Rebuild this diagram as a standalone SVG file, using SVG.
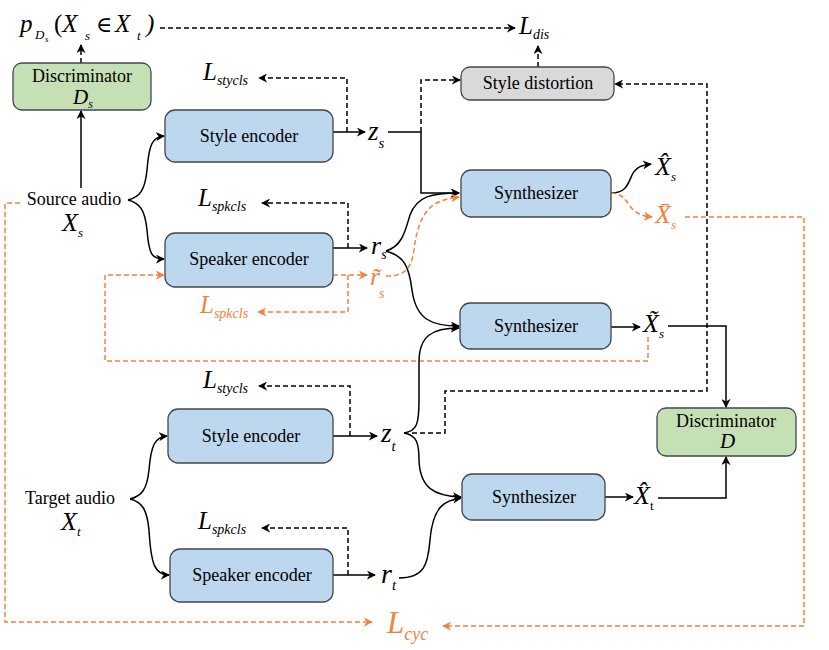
<svg xmlns="http://www.w3.org/2000/svg" width="829" height="650" viewBox="0 0 829 650" font-family="'Liberation Serif', 'DejaVu Serif', serif">
<defs>
<marker id="ab" viewBox="0 0 10 10" refX="9" refY="5" markerWidth="9" markerHeight="9" markerUnits="userSpaceOnUse" orient="auto"><path d="M0,0 L10,5 L0,10 L3,5 z" fill="#000"/></marker>
<marker id="ao" viewBox="0 0 10 10" refX="9" refY="5" markerWidth="9" markerHeight="9" markerUnits="userSpaceOnUse" orient="auto"><path d="M0,0 L10,5 L0,10 L3,5 z" fill="#f4813c"/></marker>
<style>
.box{stroke:#41464f;stroke-width:1.3}
.blue{fill:#bdd7ee}
.green{fill:#c5e0b4}
.gray{fill:#d9d9d9}
.t{font-size:18px;fill:#000;text-anchor:middle}
.m{font-style:italic;fill:#000}
.o{fill:#f4813c}
.s{fill:none;stroke:#000;stroke-width:1.5}
.d{fill:none;stroke:#000;stroke-width:1.5;stroke-dasharray:5 3}
.od{fill:none;stroke:#f4813c;stroke-width:1.5;stroke-dasharray:5 3}
</style>
</defs>

<g id="connectors">
<path class="s" d="M81,188 L81,111" marker-end="url(#ab)"/>
<path class="d" d="M81,63 L81,45" marker-end="url(#ab)"/>
<path class="d" d="M160,28 L515,28" marker-end="url(#ab)"/>
<path class="d" d="M538,67 L538,46" marker-end="url(#ab)"/>
<path class="s" d="M128,200 C140,197 145,190 147,170 C149,145 152,137 164,136" marker-end="url(#ab)"/>
<path class="s" d="M128,200 C140,203 145,210 147,230 C149,255 152,259 164,259" marker-end="url(#ab)"/>
<path class="s" d="M333,132 L365,132" marker-end="url(#ab)"/>
<path class="d" d="M347,132 L347,78 L259,78" marker-end="url(#ab)"/>
<path class="s" d="M388,132 L421,132 L421,193 L459,193" marker-end="url(#ab)"/>
<path class="d" d="M421,132 L421,80 L460,80" marker-end="url(#ab)"/>
<path class="s" d="M333,248 L367,248" marker-end="url(#ab)"/>
<path class="d" d="M348,248 L348,203 L262,203" marker-end="url(#ab)"/>
<path class="od" d="M333,275 L367,275" marker-end="url(#ao)"/>
<path class="od" d="M348,275 L348,312 L258,312" marker-end="url(#ao)"/>
<path class="od" d="M648,337 L648,361 L105,361 L105,275 L164,275" marker-end="url(#ao)"/>
<path class="s" d="M386,251 C402,246 405,232 410,215 C417,196 432,193 459,193" marker-end="url(#ab)"/>
<path class="s" d="M386,251 C404,256 409,266 412,290 C416,320 432,326 459,326" marker-end="url(#ab)"/>
<path class="od" d="M386,276 C404,276 411,270 414,250 C419,210 432,200 459,197" marker-end="url(#ao)"/>
<path class="s" d="M611,193 C626,193 628,184 632,175 C636,167 642,165 651,164" marker-end="url(#ab)"/>
<path class="od" d="M611,193 C621,193 625,199 630,206 C636,214 642,216 652,217" marker-end="url(#ao)"/>
<path class="od" d="M685,217 L804,217 L804,626 L443,626" marker-end="url(#ao)"/>
<path class="od" d="M20,203 L5,203 L5,622 L372,622" marker-end="url(#ao)"/>
<path class="s" d="M611,327 L640,327" marker-end="url(#ab)"/>
<path class="s" d="M668,326 L726,326 L726,407" marker-end="url(#ab)"/>
<path class="d" d="M412,433 L445,433 L445,391 L707,391 L707,84 L615,84" marker-end="url(#ab)"/>
<path class="s" d="M130,499 C142,496 147,489 149,470 C151,445 155,437 167,436" marker-end="url(#ab)"/>
<path class="s" d="M130,499 C142,502 147,509 149,530 C151,565 155,575 169,575" marker-end="url(#ab)"/>
<path class="s" d="M333,436 L377,436" marker-end="url(#ab)"/>
<path class="d" d="M350,436 L350,386 L259,386" marker-end="url(#ab)"/>
<path class="s" d="M333,575 L375,575" marker-end="url(#ab)"/>
<path class="d" d="M348,575 L348,528 L262,528" marker-end="url(#ab)"/>
<path class="s" d="M404,433 C417,431 419,424 419,400 L419,362 C419,336 432,328 459,328" marker-end="url(#ab)"/>
<path class="s" d="M404,433 C417,435 419,444 419,460 C420,488 434,496 461,497" marker-end="url(#ab)"/>
<path class="s" d="M399,578 C424,578 428,565 430,540 C433,505 446,500 461,498" marker-end="url(#ab)"/>
<path class="s" d="M605,497 L633,497" marker-end="url(#ab)"/>
<path class="s" d="M658,498 L726,498 L726,457" marker-end="url(#ab)"/>
</g>

<g id="discriminator-ds">
<rect class="box green" x="13" y="63" width="138" height="47" rx="9"/>
<text class="t" x="82" y="82">Discriminator</text>
<text class="m" x="73" y="104" font-size="21">D<tspan font-size="12" dy="4">s</tspan></text>
</g>
<g id="p-ds">
<text class="m" x="20" y="32" font-size="25">p</text>
<text class="m" x="35" y="39" font-size="13">D</text>
<text class="m" x="45" y="42" font-size="9">s</text>
<text class="m" x="54" y="32" font-size="25"><tspan font-style="normal">(</tspan>X</text>
<text class="m" x="85" y="40" font-size="13">s</text>
<text class="m" x="96" y="32" font-size="22" font-style="normal">∈</text>
<text class="m" x="115" y="32" font-size="25">X</text>
<text class="m" x="137" y="40" font-size="13">t</text>
<text class="m" x="146" y="32" font-size="25" font-style="normal">)</text>
</g>
<g id="l-dis"><text class="m" x="519" y="34" font-size="25">L<tspan font-size="14" dy="5">dis</tspan></text></g>
<g id="style-distortion">
<rect class="box gray" x="461" y="67" width="153" height="33" rx="9"/>
<text class="t" x="538" y="89">Style distortion</text>
</g>
<g id="l-stycls-1"><text class="m" x="203" y="80" font-size="25">L<tspan font-size="14" dy="5">stycls</tspan></text></g>
<g id="style-encoder-1">
<rect class="box blue" x="165" y="110" width="168" height="52" rx="10"/>
<text class="t" x="249" y="142">Style encoder</text>
</g>
<g id="z-s"><text class="m" x="368" y="140" font-size="27">z<tspan font-size="15" dy="8">s</tspan></text></g>
<g id="source-audio">
<text class="t" x="74" y="205">Source audio</text>
<text class="m" x="62" y="231" font-size="26">X<tspan font-size="13" dy="6">s</tspan></text>
</g>
<g id="l-spkcls-1"><text class="m" x="198" y="206" font-size="25">L<tspan font-size="14" dy="5">spkcls</tspan></text></g>
<g id="speaker-encoder-1">
<rect class="box blue" x="165" y="233" width="168" height="54" rx="10"/>
<text class="t" x="249" y="265">Speaker encoder</text>
</g>
<g id="r-s"><text class="m" x="371" y="254" font-size="26">r<tspan font-size="14" dy="5">s</tspan></text></g>
<g id="r-tilde-s"><text class="m o" x="370" y="285" font-size="26">r̃</text><text class="m o" x="379" y="298" font-size="14">s</text></g>
<g id="l-spkcls-o"><text class="m o" x="200" y="313" font-size="25">L<tspan font-size="14" dy="5">spkcls</tspan></text></g>
<g id="synthesizer-1">
<rect class="box blue" x="461" y="170" width="150" height="47" rx="10"/>
<text class="t" x="536" y="199">Synthesizer</text>
</g>
<g id="x-hat-s"><text class="m" x="655" y="175" font-size="26">X̂<tspan font-size="13" dy="6">s</tspan></text></g>
<g id="x-bar-s"><text class="m o" x="655" y="223" font-size="26">X̄<tspan font-size="13" dy="6">s</tspan></text></g>
<g id="synthesizer-2">
<rect class="box blue" x="460" y="303" width="151" height="46" rx="10"/>
<text class="t" x="536" y="332">Synthesizer</text>
</g>
<g id="x-tilde-s"><text class="m" x="643" y="332" font-size="26">X̃<tspan font-size="13" dy="6">s</tspan></text></g>
<g id="l-stycls-2"><text class="m" x="203" y="388" font-size="25">L<tspan font-size="14" dy="5">stycls</tspan></text></g>
<g id="discriminator-d">
<rect class="box green" x="657" y="408" width="139" height="48" rx="9"/>
<text class="t" x="726" y="427">Discriminator</text>
<text class="m" x="720" y="448" font-size="21">D</text>
</g>
<g id="style-encoder-2">
<rect class="box blue" x="168" y="409" width="165" height="54" rx="10"/>
<text class="t" x="251" y="442">Style encoder</text>
</g>
<g id="z-t"><text class="m" x="381" y="442" font-size="27">z<tspan font-size="15" dy="9">t</tspan></text></g>
<g id="target-audio">
<text class="t" x="70" y="504">Target audio</text>
<text class="m" x="61" y="530" font-size="26">X<tspan font-size="13" dy="6">t</tspan></text>
</g>
<g id="synthesizer-3">
<rect class="box blue" x="462" y="474" width="143" height="46" rx="10"/>
<text class="t" x="534" y="503">Synthesizer</text>
</g>
<g id="x-hat-t"><text class="m" x="634" y="504" font-size="26">X̂<tspan font-size="13" dy="6" font-style="normal">t</tspan></text></g>
<g id="l-spkcls-2"><text class="m" x="198" y="529" font-size="25">L<tspan font-size="14" dy="5">spkcls</tspan></text></g>
<g id="speaker-encoder-2">
<rect class="box blue" x="170" y="549" width="163" height="53" rx="10"/>
<text class="t" x="252" y="581">Speaker encoder</text>
</g>
<g id="r-t"><text class="m" x="381" y="583" font-size="28">r<tspan font-size="15" dy="7">t</tspan></text></g>
<g id="l-cyc"><text class="m o" x="387" y="633" font-size="31">L<tspan font-size="18" dy="7">cyc</tspan></text></g>
</svg>
